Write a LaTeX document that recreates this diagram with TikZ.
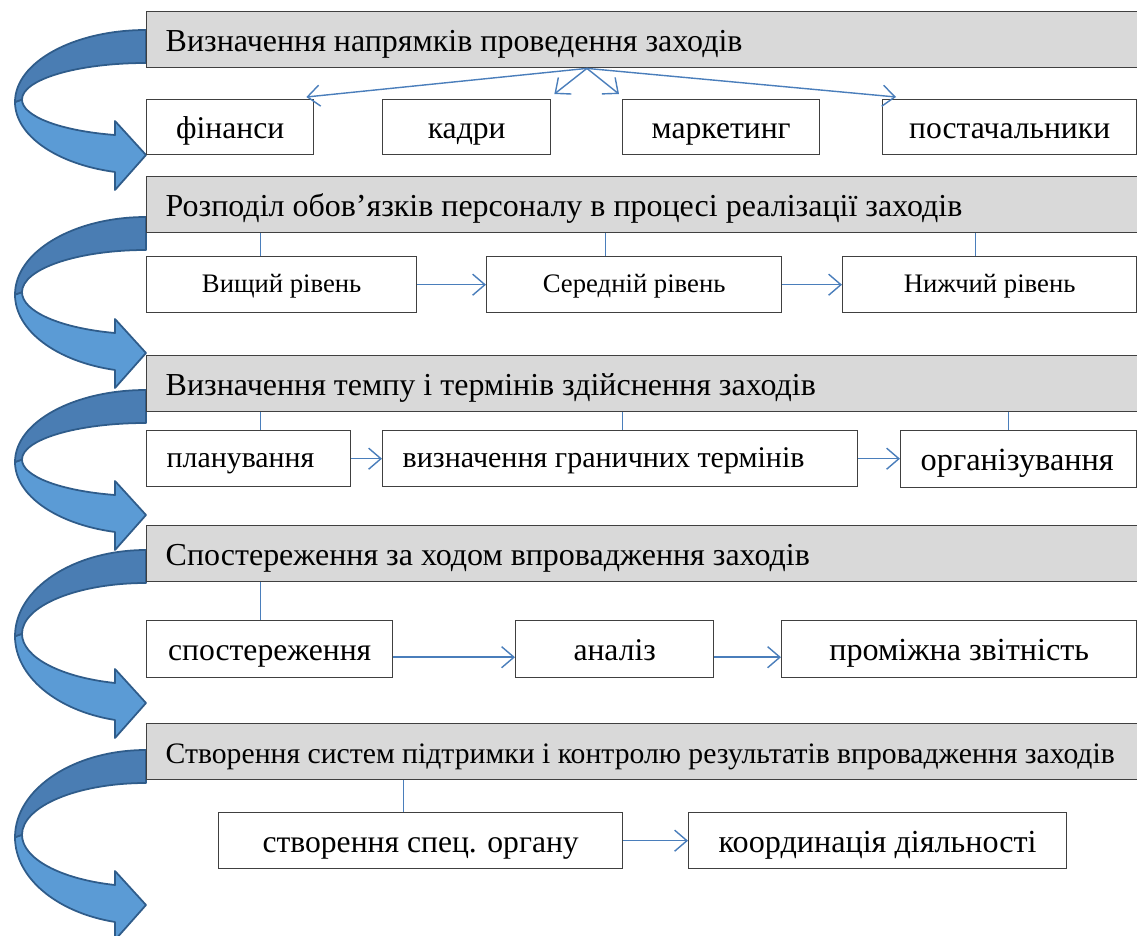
\documentclass[tikz,border=0pt]{standalone}
\usepackage{fontspec}
\setmainfont{Liberation Serif}
\usetikzlibrary{arrows.meta}
\definecolor{HeadGray}{HTML}{D9D9D9}
\definecolor{LinkBlue}{HTML}{4A7EBB}
\definecolor{RibbonLight}{HTML}{5B9BD5}
\definecolor{RibbonDark}{HTML}{4A7DB3}
\definecolor{RibbonEdge}{HTML}{2F5C8A}

\begin{document}
\begin{tikzpicture}[x=0.02cm, y=-0.02cm,
        stage/.style={draw=black!75, line width=0.8pt, fill=HeadGray, anchor=north west,
            minimum height=1.12cm, text width=19.3cm, inner xsep=0.38cm, align=flush left,
            text height=17pt, text depth=4pt, font=\fontsize{18.2}{21}\selectfont},
        item/.style={draw=black!75, line width=0.8pt, fill=white, anchor=north west,
            minimum height=1.12cm, inner sep=0pt, text height=17pt, text depth=4pt,
            font=\fontsize{18}{21}\selectfont},
        itemleft/.style={item, align=flush left, inner xsep=0.4cm},
        small/.style={text height=13pt, font=\fontsize{15.2}{18}\selectfont},
        link/.style={draw=LinkBlue, line width=0.8pt},
        flow/.style={link, -{Straight Barb[length=7pt, width=12pt]}}]
    \useasboundingbox (0,0) rectangle (1137,936);

    \foreach \a/\t in {30/155, 217/353, 390/515, 550/703, 750/905} {
        \pgfmathsetmacro\ro{(\t+17-\a)/1.9716}
        \pgfmathsetmacro\ri{(\t-53-\a)/1.968}
        \pgfmathsetmacro\co{\a+\ro}
        \pgfmathsetmacro\ci{\a+33+\ri}
        \filldraw[fill=RibbonLight, draw=RibbonEdge, line width=1pt, line join=round]
            (15,\co) arc[start angle=180, end angle=103.7, x radius=131, y radius=\ro]
            -- (115,\t+35) -- (146,\t) -- (115,\t-34) -- (115,\t-20)
            arc[start angle=104.48, end angle=180, x radius=124, y radius=\ri] -- cycle;
        \filldraw[fill=RibbonDark, draw=RibbonEdge, line width=1pt, line join=round]
            (146,\a) arc[start angle=270, end angle=180, x radius=131, y radius=\ro]
            -- (22,\ci) arc[start angle=180, end angle=270, x radius=124, y radius=\ri] -- cycle;
    }

    \node[stage] (h1) at (146,11) {Визначення напрямків проведення заходів};
    \node[stage] (h2) at (146,176) {Розподіл обов’язків персоналу в процесі реалізації заходів};
    \node[stage] (h3) at (146,355) {Визначення темпу і термінів здійснення заходів};
    \node[stage] (h4) at (146,525) {Спостереження за ходом впровадження заходів};
    \node[stage, font=\fontsize{16.9}{20}\selectfont] (h5) at (146,723) {Створення систем підтримки і контролю результатів впровадження заходів};

    \node[item, minimum width=3.34cm, minimum height=1.1cm] (fin) at (146,99) {фінанси};
    \node[item, minimum width=3.36cm, minimum height=1.1cm] (staff) at (382,99) {кадри};
    \node[item, minimum width=3.94cm, minimum height=1.1cm] (market) at (622,99) {маркетинг};
    \node[item, minimum width=5.08cm, minimum height=1.1cm] (supply) at (882,99) {постачальники};

    \node[item, small, minimum width=5.4cm] (lvlhigh) at (146,256) {Вищий рівень};
    \node[item, small, minimum width=5.9cm] (lvlmid) at (486,256) {Середній рівень};
    \node[item, small, minimum width=5.88cm] (lvllow) at (842,256) {Нижчий рівень};

    \node[itemleft, text width=3.28cm, text height=14pt, font=\fontsize{17}{20}\selectfont] (plan) at (146,430) {планування};
    \node[itemleft, text width=8.7cm, text height=14pt, font=\fontsize{17.1}{20}\selectfont] (terms) at (382,430) {визначення граничних термінів};
    \node[itemleft, text width=3.92cm, minimum height=1.14cm, font=\fontsize{18.4}{21}\selectfont] (org) at (900,430) {організування};

    \node[item, minimum width=4.92cm, minimum height=1.14cm] (watch) at (146,620) {спостереження};
    \node[item, minimum width=3.96cm, minimum height=1.14cm] (study) at (515,620) {аналіз};
    \node[item, minimum width=7.1cm, minimum height=1.14cm, font=\fontsize{18.3}{21}\selectfont] (report) at (781,620) {проміжна звітність};

    \node[item, minimum width=8.08cm] (body) at (218,812) {створення спец. органу};
    \node[item, minimum width=7.56cm, font=\fontsize{18.3}{21}\selectfont] (coord) at (688,812) {координація діяльності};

    \coordinate (fork) at ([xshift=8.82cm]h1.south west);
    \draw[flow] (fork) -- ([xshift=-0.16cm, yshift=0.04cm]fin.north east);
    \draw[flow] (fork) -- ([xshift=0.06cm, yshift=0.1cm]staff.north east);
    \draw[flow] (fork) -- ([xshift=-0.06cm, yshift=0.1cm]market.north west);
    \draw[flow] (fork) -- ([xshift=0.28cm, yshift=0.04cm]supply.north west);

    \draw[link] ([xshift=-0.42cm]lvlhigh.north) -- ([xshift=-0.42cm]lvlhigh.north |- h2.south);
    \draw[link] ([xshift=-0.57cm]lvlmid.north) -- ([xshift=-0.57cm]lvlmid.north |- h2.south);
    \draw[link] ([xshift=-0.28cm]lvllow.north) -- ([xshift=-0.28cm]lvllow.north |- h2.south);
    \draw[flow] (lvlhigh) -- (lvlmid);
    \draw[flow] (lvlmid) -- (lvllow);

    \draw[link] ([xshift=0.24cm]plan.north) -- ([xshift=0.24cm]plan.north |- h3.south);
    \draw[link] ([xshift=0.05cm]terms.north) -- ([xshift=0.05cm]terms.north |- h3.south);
    \draw[link] ([xshift=-0.2cm]org.north) -- ([xshift=-0.2cm]org.north |- h3.south);
    \draw[flow] (plan) -- (terms);
    \draw[flow] (terms.east) -- (terms.east -| org.west);

    \draw[link] ([xshift=-0.18cm]watch.north) -- ([xshift=-0.18cm]watch.north |- h4.south);
    \draw[flow] ([yshift=-0.16cm]watch.east) -- ([yshift=-0.16cm]study.west);
    \draw[flow] ([yshift=-0.16cm]study.east) -- ([yshift=-0.16cm]report.west);

    \draw[link] ([xshift=-0.34cm]body.north) -- ([xshift=-0.34cm]body.north |- h5.south);
    \draw[flow] (body) -- (coord);
\end{tikzpicture}
\end{document}
